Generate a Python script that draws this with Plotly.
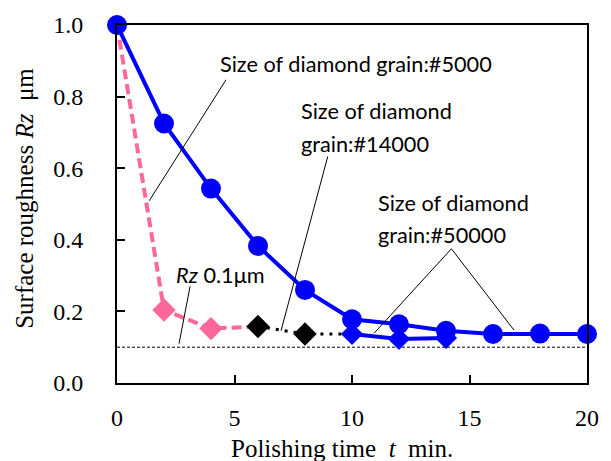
import plotly.graph_objects as go

# ---- data ----
t_ref = [0, 2, 4, 6, 8, 10, 12, 14, 16, 18, 20]
rz_ref = [1.0, 0.725, 0.543, 0.383, 0.260, 0.178, 0.164, 0.146, 0.137, 0.138, 0.137]

t_start = [0]
rz_start = [1.0]

t_5000 = [2, 4]
rz_5000 = [0.204, 0.152]

t_14000 = [6, 8]
rz_14000 = [0.158, 0.137]

t_50000 = [10, 12, 14]
rz_50000 = [0.137, 0.123, 0.126]

rz_limit = 0.1
x_ticks = [0, 5, 10, 15, 20]
y_ticks = [0.0, 0.2, 0.4, 0.6, 0.8, 1.0]

# leader lines for the labels (data coords): (x0, y0, x1, y1)
leaders = [
    (4.64, 0.847, 1.37, 0.509),   # #5000
    (8.97, 0.633, 6.98, 0.146),   # #14000
    (14.23, 0.375, 10.94, 0.139), # #50000 left
    (14.23, 0.375, 16.89, 0.148), # #50000 right
    (3.11, 0.270, 2.64, 0.110),   # Rz 0.1um
]

BLUE = "#0000FF"
PINK = "#FF6699"

fig = go.Figure()

# threshold line
fig.add_trace(go.Scatter(x=[x_ticks[0], x_ticks[-1]], y=[rz_limit, rz_limit], mode="lines",
                         line=dict(color="black", width=1, dash="3px,2px"),
                         hoverinfo="skip", showlegend=False))

# pink dashed connector (#5000)
fig.add_trace(go.Scatter(x=t_start + t_5000 + t_14000[:1], y=rz_start + rz_5000 + rz_14000[:1],
                         mode="lines", line=dict(color=PINK, width=4, dash="10px,5px"),
                         showlegend=False, cliponaxis=False))
fig.add_trace(go.Scatter(x=t_5000, y=rz_5000, mode="markers",
                         marker=dict(symbol="diamond", size=18, color=PINK),
                         showlegend=False, cliponaxis=False))

# black dotted (#14000)
fig.add_trace(go.Scatter(x=t_14000 + t_50000[:1], y=rz_14000 + rz_50000[:1],
                         mode="lines", line=dict(color="black", width=3, dash="3px,6px"),
                         showlegend=False, cliponaxis=False))
fig.add_trace(go.Scatter(x=t_14000, y=rz_14000, mode="markers",
                         marker=dict(symbol="diamond", size=18, color="black"),
                         showlegend=False, cliponaxis=False))

# blue diamonds (#50000)
fig.add_trace(go.Scatter(x=t_50000, y=rz_50000, mode="lines+markers",
                         line=dict(color=BLUE, width=4),
                         marker=dict(symbol="diamond", size=17, color=BLUE),
                         showlegend=False, cliponaxis=False))

# blue circles
fig.add_trace(go.Scatter(x=t_ref, y=rz_ref, mode="lines+markers",
                         line=dict(color=BLUE, width=4),
                         marker=dict(symbol="circle", size=20, color=BLUE),
                         showlegend=False, cliponaxis=False))

for (x0, y0, x1, y1) in leaders:
    fig.add_shape(type="line", x0=x0, y0=y0, x1=x1, y1=y1, xref="x", yref="y",
                  line=dict(color="black", width=1))

sans = "Lato"
lab_font = dict(family=sans, size=21.7, color="black")
labels = [
    (4.30, 0.892, "Size of diamond grain:#5000"),
    (7.74, 0.760, "Size of diamond"),
    (7.74, 0.669, "grain:#14000"),
    (11.01, 0.504, "Size of diamond"),
    (11.01, 0.413, "grain:#50000"),
    (2.43, 0.303, "<i>Rz</i> 0.1μm"),
]
for x, y, txt in labels:
    fig.add_annotation(x=x, y=y, xref="x", yref="y", text=txt, showarrow=False,
                       xanchor="left", yanchor="middle", font=lab_font)

serif = "Liberation Serif"
fig.add_annotation(x=0.479, y=-0.182, xref="paper", yref="paper",
                   text="Polishing time  <i>t</i>  min.", showarrow=False,
                   xanchor="center", yanchor="middle",
                   font=dict(family=serif, size=25, color="black"))
fig.add_annotation(x=-0.196, y=0.517, xref="paper", yref="paper",
                   text="Surface roughness <i>Rz</i>  μm", showarrow=False, textangle=-90,
                   xanchor="center", yanchor="middle",
                   font=dict(family=serif, size=25, color="black"))

tickfont = dict(family=serif, size=24, color="black")
axis_common = dict(showgrid=False, zeroline=False, showline=True, linecolor="black",
                   linewidth=2, mirror=True, ticks="inside", ticklen=8, tickwidth=2,
                   tickcolor="black")

fig.update_xaxes(range=[0, 20], tickvals=x_ticks, ticktext=[str(v) for v in x_ticks],
                 ticklabelstandoff=12, tickfont=tickfont, **axis_common)
fig.update_yaxes(range=[0, 1.0], tickvals=y_ticks, ticktext=[f"{v:.1f}" for v in y_ticks],
                 ticklabelstandoff=27, tickfont=tickfont, **axis_common)

fig.update_layout(width=611, height=461, margin=dict(l=117, r=23, t=20, b=78),
                  paper_bgcolor="white", plot_bgcolor="white", showlegend=False)

fig.write_html("out.html")
